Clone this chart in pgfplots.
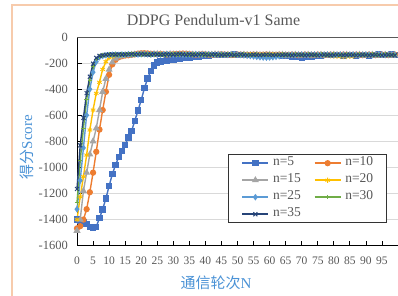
\documentclass[border=0pt]{standalone}
\usepackage{pgfplots}
\usepackage{pgfplotstable}
\pgfplotsset{compat=1.18}
\usepackage{fontspec}
\setmainfont{Liberation Serif}
\newfontfamily\cjk{Noto Sans CJK SC}
\definecolor{c5}{HTML}{4472C4}
\definecolor{c10}{HTML}{ED7D31}
\definecolor{c15}{HTML}{A5A5A5}
\definecolor{c20}{HTML}{FFC000}
\definecolor{c25}{HTML}{5B9BD5}
\definecolor{c30}{HTML}{70AD47}
\definecolor{c35}{HTML}{264478}
\definecolor{tickgray}{HTML}{595959}
\definecolor{gridc}{HTML}{D9D9D9}
\definecolor{labblue}{HTML}{4A92D6}
\definecolor{framec}{HTML}{F7CBAC}

\pgfplotstableread{
x n5 n10 n15 n20 n25 n30 n35
0 -1400 -1467 -1485 -1400 -1320 -1270 -1165
1 -1409 -1450 -1400 -1225 -1100 -950 -830
2 -1420 -1400 -1180 -1071 -850 -700 -620
3 -1434 -1320 -1040 -905 -600 -480 -430
4 -1455 -1190 -900 -713 -400 -330 -305
5 -1459 -1040 -800 -560 -270 -225 -205
6 -1455 -880 -700 -432 -190 -170 -160
7 -1388 -710 -560 -347 -155 -150 -145
8 -1321 -560 -420 -248 -145 -142 -140
9 -1237 -420 -320 -189 -140 -138 -136
10 -1143 -290 -250 -160 -138 -135 -134
11 -1051 -210 -195 -148 -136 -137 -133
12 -982 -175 -165 -142 -135 -134 -135
13 -919 -155 -150 -139 -137 -136 -132
14 -873 -147 -144 -137 -134 -133 -135
15 -827 -142 -140 -136 -136 -135 -134
16 -770 -140 -138 -134 -133 -132 -133
17 -721 -137 -136 -131 -135 -134 -131
18 -642 -133 -135 -128 -132 -133 -134
19 -565 -128 -134 -130 -134 -131 -132
20 -483 -125 -132 -133 -133 -134 -130
21 -393 -124 -133 -135 -131 -132 -133
22 -317 -126 -135 -134 -133 -130 -135
23 -261 -129 -134 -136 -135 -133 -134
24 -220 -131 -132 -133 -132 -135 -131
25 -197 -133 -131 -134 -134 -132 -133
26 -188 -130 -133 -132 -136 -134 -135
27 -183 -132 -136 -134 -133 -136 -134
28 -180 -134 -134 -135 -131 -133 -132
29 -176 -133 -131 -133 -134 -135 -134
30 -172 -131 -133 -131 -136 -132 -136
31 -169 -130 -135 -132 -134 -135 -133
32 -166 -128 -137 -134 -132 -133 -131
33 -163 -127 -135 -136 -135 -131 -134
34 -160 -129 -133 -135 -137 -134 -136
35 -157 -131 -134 -133 -135 -136 -133
36 -154 -133 -136 -131 -133 -134 -135
37 -151 -135 -138 -133 -131 -132 -137
38 -148 -134 -136 -135 -134 -135 -134
39 -146 -132 -134 -137 -136 -137 -132
40 -144 -133 -135 -136 -134 -135 -135
41 -142 -135 -137 -134 -132 -133 -137
42 -140 -137 -135 -132 -135 -136 -135
43 -139 -136 -133 -134 -137 -138 -133
44 -137 -134 -135 -136 -135 -136 -136
45 -136 -132 -137 -138 -133 -134 -138
46 -137 -134 -139 -136 -136 -137 -136
47 -138 -136 -137 -134 -138 -135 -134
48 -136 -138 -135 -136 -136 -133 -136
49 -135 -136 -137 -138 -134 -136 -138
50 -137 -134 -139 -140 -137 -138 -136
51 -139 -135 -137 -138 -139 -136 -134
52 -138 -137 -135 -136 -141 -134 -137
53 -136 -139 -137 -134 -143 -137 -139
54 -137 -137 -139 -136 -146 -139 -137
55 -139 -135 -138 -138 -149 -137 -135
56 -140 -136 -136 -137 -152 -135 -137
57 -138 -138 -138 -135 -155 -137 -139
58 -137 -136 -140 -137 -157 -139 -137
59 -139 -134 -138 -139 -158 -137 -135
60 -141 -136 -136 -137 -157 -135 -137
61 -140 -138 -138 -135 -155 -137 -139
62 -138 -137 -140 -137 -152 -139 -137
63 -140 -135 -138 -139 -148 -137 -136
64 -142 -137 -136 -137 -144 -135 -138
65 -144 -139 -138 -135 -141 -137 -136
66 -147 -137 -140 -137 -139 -139 -138
67 -150 -135 -138 -139 -137 -137 -140
68 -153 -137 -136 -137 -139 -135 -138
69 -155 -139 -138 -139 -137 -137 -136
70 -156 -137 -140 -137 -135 -139 -138
71 -155 -135 -138 -135 -137 -137 -140
72 -153 -137 -136 -137 -139 -135 -138
73 -150 -139 -138 -139 -137 -137 -136
74 -146 -137 -140 -141 -135 -139 -138
75 -143 -135 -138 -139 -137 -137 -140
76 -141 -137 -136 -137 -139 -135 -138
77 -139 -139 -138 -139 -137 -137 -136
78 -138 -137 -140 -141 -135 -139 -138
79 -140 -135 -138 -143 -137 -137 -140
80 -139 -137 -136 -145 -139 -135 -138
81 -137 -139 -138 -147 -137 -137 -136
82 -139 -137 -140 -149 -135 -139 -138
83 -141 -135 -138 -150 -137 -137 -140
84 -139 -137 -136 -149 -139 -135 -138
85 -137 -139 -138 -147 -137 -137 -136
86 -139 -137 -140 -145 -135 -139 -138
87 -141 -135 -138 -142 -137 -137 -140
88 -139 -137 -136 -140 -139 -135 -138
89 -137 -139 -138 -138 -137 -137 -136
90 -139 -137 -140 -136 -135 -139 -138
91 -141 -135 -138 -138 -137 -137 -140
92 -139 -137 -136 -136 -139 -135 -138
93 -137 -139 -138 -138 -137 -137 -136
94 -135 -137 -140 -136 -135 -139 -138
95 -137 -135 -138 -138 -137 -137 -140
96 -139 -137 -136 -136 -139 -135 -138
97 -137 -139 -138 -138 -137 -137 -136
98 -135 -137 -140 -136 -135 -139 -138
99 -137 -135 -138 -138 -137 -137 -140
}\datatable

\begin{document}
\begin{tikzpicture}[x=1pt,y=1pt]
\useasboundingbox (0,0) rectangle (398,295);
\fill[white] (0,0) rectangle (398,295);
\draw[framec, line width=1.5pt] (12,290) rectangle (420,-20);
\begin{axis}[
  at={(77pt,49.3pt)}, anchor=south west,
  scale only axis, width=321pt, height=208.7pt,
  xmin=0, xmax=100, ymin=-1600, ymax=0,
  axis lines=left, axis line style={-, black, line width=0.9pt},
  xtick={0,5,...,95},
  xticklabels={0,5,10,15,20,25,30,35,40,45,50,55,60,65,70,75,80,85,90,95},
  ytick={-1600,-1400,...,0},
  yticklabels={-1600,-1400,-1200,-1000,-800,-600,-400,-200,0},
  tick align=inside, major tick length=5pt,
  tick style={black, line width=0.8pt},
  xticklabel style={font=\fontsize{11.5}{13}\selectfont, text=tickgray, anchor=north, inner sep=0pt, yshift=-11pt},
  yticklabel style={font=\fontsize{12.5}{14}\selectfont, text=tickgray, anchor=east, inner sep=0pt, xshift=-9pt},
  ymajorgrids, grid style={gridc, line width=0.8pt},
  clip=false,
  legend columns=2,
  legend cell align=left,
  legend style={at={(0.4713,0.438)}, anchor=north west, draw=black!80, line width=0.8pt, fill=white,
    font=\fontsize{13.5}{15}\selectfont, text=tickgray,
    inner xsep=13pt, inner ysep=3pt,
    nodes={inner sep=0pt, text height=8pt, text depth=3pt, anchor=west},
    row sep=6pt,
    /tikz/every odd column/.append style={column sep=4pt},
    /tikz/every even column/.append style={column sep=13pt}},
  legend image code/.code={\draw[mark repeat=2,mark phase=2,#1] plot coordinates {(0pt,0pt) (13pt,0pt) (26pt,0pt)};},
  every axis plot/.append style={line width=1.4pt},
]
\draw[tickgray, line width=0.9pt] (rel axis cs:0,1) -- (rel axis cs:1,1);
\addplot[c5, mark=square*, mark size=2.5pt, mark options={solid}] table[x=x,y=n5] {\datatable};
\addlegendentry{n=5}
\addplot[c10, mark=*, mark size=2.4pt, mark options={solid}] table[x=x,y=n10] {\datatable};
\addlegendentry{n=10}
\addplot[c15, mark=triangle*, mark size=2.7pt, mark options={solid}] table[x=x,y=n15] {\datatable};
\addlegendentry{n=15}
\addplot[c20, mark=asterisk, mark size=2.6pt, mark options={solid, line width=0.9pt}] table[x=x,y=n20] {\datatable};
\addlegendentry{n=20}
\addplot[c25, mark=diamond*, mark size=2.2pt, mark options={solid}] table[x=x,y=n25] {\datatable};
\addlegendentry{n=25}
\addplot[c30, mark=+, mark size=2.2pt, mark options={solid, line width=0.9pt}] table[x=x,y=n30] {\datatable};
\addlegendentry{n=30}
\addplot[c35, mark=x, mark size=2.8pt, mark options={solid, line width=1pt}] table[x=x,y=n35] {\datatable};
\addlegendentry{n=35}
\end{axis}
\node[font=\fontsize{16}{18}\selectfont, text=tickgray, anchor=base] at (213.5,269) {DDPG Pendulum-v1 Same};
\node[font=\fontsize{15}{17}\selectfont, text=labblue, anchor=base, rotate=90] at (32,148) {{\cjk 得分}Score};
\node[font=\fontsize{15}{17}\selectfont, text=labblue, anchor=base] at (216,7) {{\cjk 通信轮次}N};
\end{tikzpicture}
\end{document}
